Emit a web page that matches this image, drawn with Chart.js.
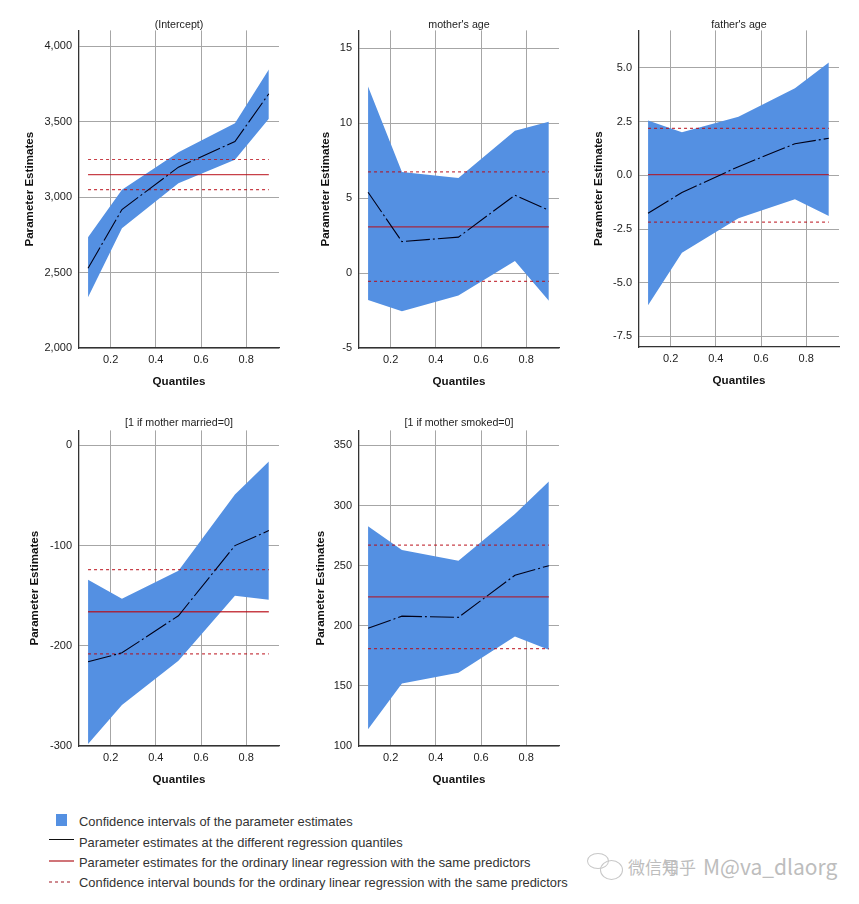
<!DOCTYPE html>
<html>
<head>
<meta charset="utf-8">
<script src="https://cdn.jsdelivr.net/npm/chart.js@4"></script>
<style>
html,body{margin:0;padding:0;background:#fff;}
#page{position:relative;width:859px;height:904px;overflow:hidden;}
canvas{position:absolute;}
.leg{position:absolute;left:79px;font:12.9px "Liberation Sans",Arial,sans-serif;color:#333;white-space:nowrap;line-height:16px;}
.mark{position:absolute;}
.wm{position:absolute;top:853px;font:17px "Noto Sans CJK SC",sans-serif;color:#bdbdbd;white-space:nowrap;}
.ico{position:absolute;border:1px solid #c8c8c8;border-radius:50%;}
</style>
</head>
<body>
<div id="page"></div>
<script>
var quantiles = [0.1, 0.25, 0.5, 0.75, 0.9];
var xTicks = [0.2, 0.4, 0.6, 0.8];

// (Intercept)
var interceptEst = [2529, 2918, 3199, 3369, 3686];
var interceptUp = [2735, 3049, 3298, 3491, 3847];
var interceptLow = [2337, 2794, 3093, 3248, 3520];
var interceptOls = [3150, 3150, 3150, 3150, 3150];
var interceptOlsUp = [3250, 3250, 3250, 3250, 3250];
var interceptOlsLow = [3050, 3050, 3050, 3050, 3050];
var interceptTicks = [2000, 2500, 3000, 3500, 4000];

// mother's age
var motherEst = [5.4, 2.1, 2.4, 5.2, 4.2];
var motherUp = [12.45, 6.75, 6.35, 9.5, 10.1];
var motherLow = [-1.8, -2.55, -1.5, 0.8, -1.85];
var motherOls = [3.08, 3.08, 3.08, 3.08, 3.08];
var motherOlsUp = [6.75, 6.75, 6.75, 6.75, 6.75];
var motherOlsLow = [-0.55, -0.55, -0.55, -0.55, -0.55];
var motherTicks = [-5, 0, 5, 10, 15];

// father's age
var fatherEst = [-1.77, -0.8, 0.4, 1.47, 1.72];
var fatherUp = [2.55, 2.0, 2.72, 4.05, 5.25];
var fatherLow = [-6.05, -3.6, -2.0, -1.12, -1.9];
var fatherOls = [0.03, 0.03, 0.03, 0.03, 0.03];
var fatherOlsUp = [2.18, 2.18, 2.18, 2.18, 2.18];
var fatherOlsLow = [-2.18, -2.18, -2.18, -2.18, -2.18];
var fatherTicks = [-7.5, -5, -2.5, 0, 2.5, 5];

// [1 if mother married=0]
var marriedEst = [-216, -207, -170, -100, -85];
var marriedUp = [-134, -153, -125, -49, -16];
var marriedLow = [-298, -259, -215, -150, -154];
var marriedOls = [-166, -166, -166, -166, -166];
var marriedOlsUp = [-124, -124, -124, -124, -124];
var marriedOlsLow = [-208, -208, -208, -208, -208];
var marriedTicks = [-300, -200, -100, 0];

// [1 if mother smoked=0]
var smokedEst = [198, 208, 207, 242, 250];
var smokedUp = [282.7, 263, 254, 293, 320];
var smokedLow = [114, 152, 161, 191, 180];
var smokedOls = [224, 224, 224, 224, 224];
var smokedOlsUp = [267, 267, 267, 267, 267];
var smokedOlsLow = [181, 181, 181, 181, 181];
var smokedTicks = [100, 150, 200, 250, 300, 350];

var legendLabels = [
	"Confidence intervals of the parameter estimates",
	"Parameter estimates at the different regression quantiles",
	"Parameter estimates for the ordinary linear regression with the same predictors",
	"Confidence interval bounds for the ordinary linear regression with the same predictors"
];

var BLUE = "#5490e2";
var RED = "rgba(185,10,20,0.78)";
var FONT = '"Liberation Sans", Arial, sans-serif';
var TITLE_H = 12.84;

var panels = [
	{title:"(Intercept)", est:interceptEst, up:interceptUp, low:interceptLow, ols:interceptOls, olsUp:interceptOlsUp, olsLow:interceptOlsLow, ticks:interceptTicks, min:2000, max:4106, dec:0,
		left:23, axis:79, right:279, top:30, bottom:348, titleTop:19},
	{title:"mother's age", est:motherEst, up:motherUp, low:motherLow, ols:motherOls, olsUp:motherOlsUp, olsLow:motherOlsLow, ticks:motherTicks, min:-5, max:16.2, dec:0,
		left:319, axis:359, right:559, top:30, bottom:348, titleTop:19},
	{title:"father's age", est:fatherEst, up:fatherUp, low:fatherLow, ols:fatherOls, olsUp:fatherOlsUp, olsLow:fatherOlsLow, ticks:fatherTicks, min:-7.99, max:6.74, dec:1,
		left:592, axis:639, right:839, top:30, bottom:347, titleTop:19},
	{title:"[1 if mother married=0]", est:marriedEst, up:marriedUp, low:marriedLow, ols:marriedOls, olsUp:marriedOlsUp, olsLow:marriedOlsLow, ticks:marriedTicks, min:-300, max:15, dec:0,
		left:28, axis:79, right:279, top:430, bottom:746, titleTop:17},
	{title:"[1 if mother smoked=0]", est:smokedEst, up:smokedUp, low:smokedLow, ols:smokedOls, olsUp:smokedOlsUp, olsLow:smokedOlsLow, ticks:smokedTicks, min:100, max:362.5, dec:0,
		left:314, axis:359, right:559, top:430, bottom:746, titleTop:17}
];

function pts(vals){
	return vals.map(function(v,i){ return {x:quantiles[i], y:v}; });
}

function drawPanel(p){
	var cv = document.createElement('canvas');
	var cvTop = p.top - 30;
	cv.width = p.right + 6 - p.left;
	cv.height = p.bottom - cvTop + 48;
	cv.style.left = p.left + 'px';
	cv.style.top = cvTop + 'px';
	cv.style.width = cv.width + 'px';
	cv.style.height = cv.height + 'px';
	document.getElementById('page').appendChild(cv);

	// first dataset ends up on top, band goes last
	var lineBase = {pointRadius:0, fill:false, tension:0, showLine:true};
	new Chart(cv, {
		type: 'scatter',
		data: {datasets: [
			Object.assign({}, lineBase, {data:pts(p.est), borderWidth:1.1, borderColor:"#000018", borderDash:[24,3,2,3]}),
			Object.assign({}, lineBase, {data:pts(p.ols), borderWidth:1.3, borderColor:RED}),
			Object.assign({}, lineBase, {data:pts(p.olsUp), borderWidth:1.2, borderColor:RED, borderDash:[3,3]}),
			Object.assign({}, lineBase, {data:pts(p.olsLow), borderWidth:1.2, borderColor:RED, borderDash:[3,3]}),
			Object.assign({}, lineBase, {data:pts(p.up), borderWidth:0, borderColor:BLUE, backgroundColor:BLUE, fill:'+1'}),
			Object.assign({}, lineBase, {data:pts(p.low), borderWidth:0, borderColor:BLUE})
		]},
		options: {
			responsive: false,
			animation: false,
			layout: {padding:{top:0, right:6, bottom:0, left:0}},
			plugins: {
				legend: {display:false},
				tooltip: {enabled:false},
				title: {display:true, fullSize:false, text:p.title, color:"#222", font:{family:FONT, size:10.7, weight:'normal', lineHeight:1.2},
					padding:{top:p.titleTop, bottom:30.4 - p.titleTop - TITLE_H}}
			},
			scales: {
				x: {
					type:'linear', min:0.06, max:0.945,
					afterBuildTicks: function(s){ s.ticks = xTicks.map(function(v){ return {value:v}; }); },
					afterFit: function(s){ s.height = 48; },
					grid: {color:"#a6a6a6", lineWidth:1, drawTicks:false},
					border: {color:"#333", width:1.3},
					ticks: {color:"#222", font:{family:FONT, size:11}, padding:5, maxRotation:0, autoSkip:false,
						callback:function(v){ return v.toFixed(1); }},
					title: {display:true, text:"Quantiles", color:"#111", font:{family:FONT, size:11.6, weight:'bold'}, padding:{top:0, bottom:7}}
				},
				y: {
					min:p.min, max:p.max,
					afterBuildTicks: function(s){ s.ticks = p.ticks.map(function(v){ return {value:v}; }); },
					afterFit: function(s){ s.width = p.axis - p.left; },
					grid: {color:"#a6a6a6", lineWidth:1, drawTicks:false},
					border: {color:"#333", width:1.3},
					ticks: {color:"#222", font:{family:FONT, size:11}, padding:7, autoSkip:false,
						callback:function(v){ return v.toLocaleString('en-US',{minimumFractionDigits:p.dec, maximumFractionDigits:p.dec}); }},
					title: {display:true, text:"Parameter Estimates", color:"#111", font:{family:FONT, size:11.6, weight:'bold'}, padding:0}
				}
			}
		}
	});
}

panels.forEach(drawPanel);

// legend, drawn below the panels
function addLegend(){
	var page = document.getElementById('page');
	var tops = [814, 835, 855, 875];
	legendLabels.forEach(function(t,i){
		var d = document.createElement('div');
		d.className = 'leg';
		d.style.top = tops[i] + 'px';
		d.textContent = t;
		page.appendChild(d);
		var m = document.createElement('div');
		m.className = 'mark';
		if(i == 0){
			m.style.cssText = 'left:56px;top:814px;width:11px;height:12px;background:'+BLUE+';';
		} else if(i == 1){
			m.style.cssText = 'left:49px;top:839px;width:25px;height:1px;background:#111;';
		} else if(i == 2){
			m.style.cssText = 'left:49px;top:860px;width:25px;height:2px;background:#d07478;';
		} else {
			m.style.cssText = 'left:49px;top:881px;width:24px;height:2px;background:repeating-linear-gradient(90deg,#cf8a90 0 3px,transparent 3px 6px);';
		}
		page.appendChild(m);
	});
	// watermark in the corner: two overprinted labels and the little chat icon
	var marks = [['微信号', 628, 17], ['知乎', 662, 17], ['M@va_dlaorg', 703, 21]];
	marks.forEach(function(w){
		var s = document.createElement('div');
		s.className = 'wm';
		s.style.left = w[1] + 'px';
		s.style.fontSize = w[2] + 'px';
		s.style.top = (w[2] == 21 ? 851 : 854) + 'px';
		s.textContent = w[0];
		page.appendChild(s);
	});
	[[587,853,20,14],[600,860,21,18]].forEach(function(c){
		var o = document.createElement('div');
		o.className = 'ico';
		o.style.cssText = 'left:'+c[0]+'px;top:'+c[1]+'px;width:'+c[2]+'px;height:'+c[3]+'px;';
		page.appendChild(o);
	});
}
addLegend();
</script>
</body>
</html>
